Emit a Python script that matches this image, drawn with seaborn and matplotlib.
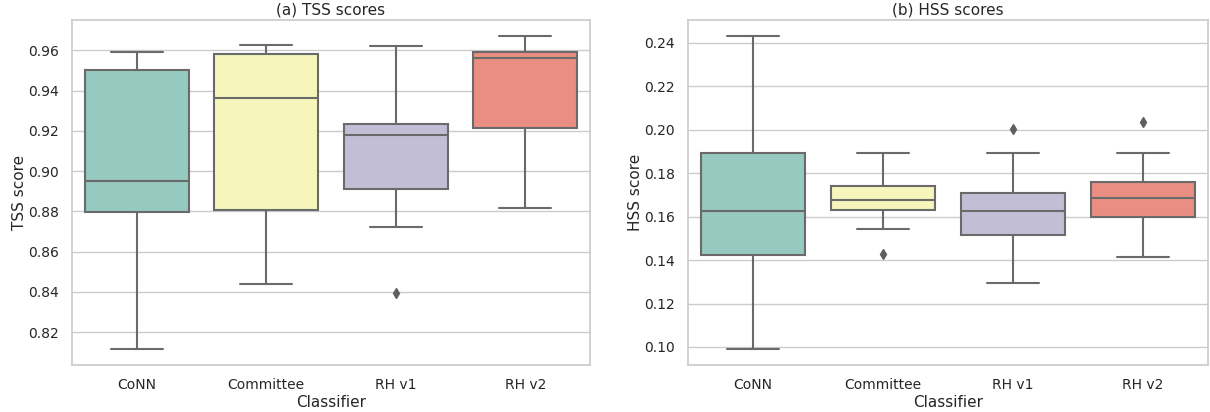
import numpy as np
import pandas as pd
import matplotlib
matplotlib.use("Agg")
import matplotlib.pyplot as plt
import seaborn as sns

classifiers = ["CoNN", "Committee", "RH v1", "RH v2"]

tss_conn = [0.8115, 0.850, 0.8797, 0.888, 0.895, 0.920, 0.9503, 0.955, 0.959]
tss_committee = [0.8442, 0.865, 0.8808, 0.910, 0.9362, 0.950, 0.9583, 0.960, 0.9625]
tss_rhv1 = [0.8395, 0.8725, 0.8912, 0.905, 0.9178, 0.920, 0.9233, 0.940, 0.9623]
tss_rhv2 = [0.8817, 0.905, 0.9213, 0.940, 0.956, 0.958, 0.9593, 0.963, 0.9672]

hss_conn = [0.0989, 0.125, 0.1423, 0.155, 0.1628, 0.175, 0.1891, 0.210, 0.2432]
hss_committee = [0.1429, 0.1543, 0.1632, 0.165, 0.1677, 0.170, 0.1743, 0.180, 0.1891]
hss_rhv1 = [0.1295, 0.140, 0.1515, 0.158, 0.1625, 0.167, 0.1708, 0.1895, 0.2003]
hss_rhv2 = [0.1413, 0.152, 0.160, 0.165, 0.1685, 0.172, 0.1758, 0.1893, 0.2035]

def make_df(series, col):
    rows = []
    for name, vals in zip(classifiers, series):
        for v in vals:
            rows.append({"Classifier": name, col: v})
    return pd.DataFrame(rows)

df_tss = make_df([tss_conn, tss_committee, tss_rhv1, tss_rhv2], "TSS score")
df_hss = make_df([hss_conn, hss_committee, hss_rhv1, hss_rhv2], "HSS score")

sns.set_theme(style="whitegrid")
plt.rcParams["font.family"] = ["DejaVu Sans"]

fig = plt.figure(figsize=(12.1, 4.12), dpi=100)
ax1 = fig.add_axes([0.0595, 0.114, 0.4281, 0.837])
ax2 = fig.add_axes([0.5686, 0.114, 0.4294, 0.837])

for ax, df, col, title in [(ax1, df_tss, "TSS score", "(a) TSS scores"),
                           (ax2, df_hss, "HSS score", "(b) HSS scores")]:
    sns.boxplot(data=df, x="Classifier", y=col, hue="Classifier", palette="Set3",
                legend=False, ax=ax, linewidth=1.5,
                flierprops=dict(marker="d", markersize=5,
                                markerfacecolor="#5f5f5f", markeredgecolor="#5f5f5f"))
    ax.set_title(title, fontsize=11, pad=4, color="#262626")
    ax.set_xlabel("Classifier", fontsize=11, labelpad=2)
    ax.set_ylabel(col, fontsize=11, labelpad=1)
    ax.tick_params(labelsize=10)

fig.savefig("out.png", dpi=100)
